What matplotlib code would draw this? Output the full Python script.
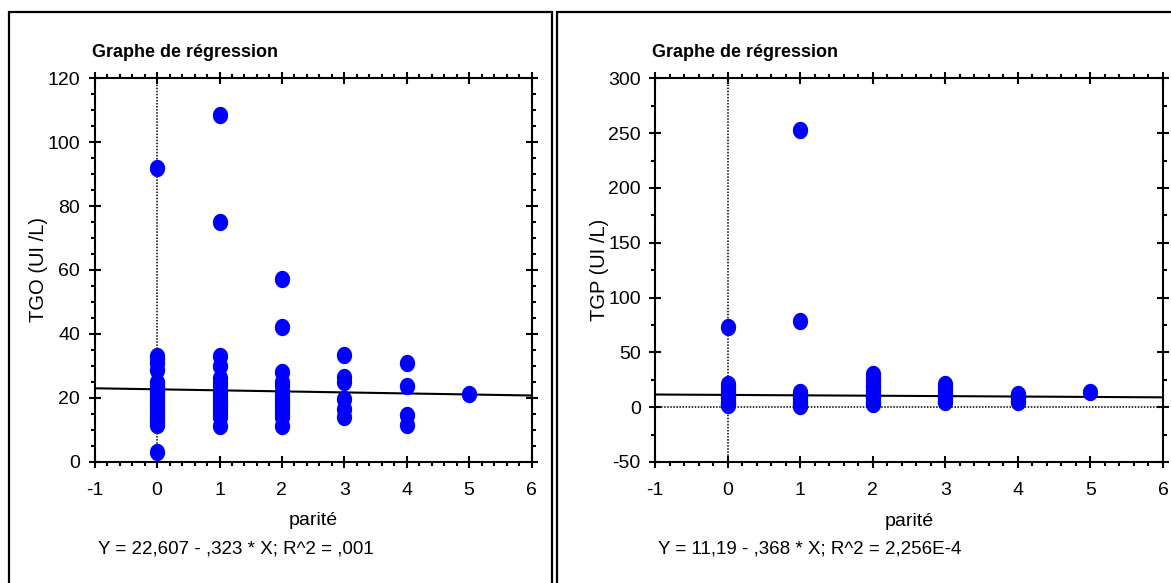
#!/usr/bin/env python3

import numpy as np
import matplotlib
matplotlib.use('Agg')
import matplotlib.pyplot as plt
from matplotlib.ticker import MultipleLocator, AutoMinorLocator
from matplotlib.patches import Rectangle
from matplotlib.path import Path

plt.rcParams['axes.unicode_minus'] = False

# parité values with TGO readings (left panel)
tgo_x = [0]*21 + [1]*17 + [2]*15 + [3]*6 + [4]*4 + [5]
tgo_y = [92, 33, 32, 31, 28.5, 25, 24, 23, 22, 21, 20, 19, 18, 17, 16, 15, 14, 13, 12, 11.5, 3,
         108.5, 75, 33, 30, 26, 25, 24, 22, 21, 20, 19, 18, 17, 16, 15, 14, 11,
         57, 42, 28, 25, 24, 22, 21, 20, 19, 18, 17, 16, 15, 14, 11,
         33.5, 26.5, 25, 19.5, 16.5, 14,
         31, 23.5, 14.5, 11.5,
         21]

# parité values with TGP readings (right panel)
tgp_x = [0]*11 + [1]*10 + [2]*12 + [3]*8 + [4]*5 + [5]
tgp_y = [73, 21, 18, 15, 12, 10, 8, 6, 4, 3, 2,
         253, 79, 14, 12, 10, 8, 6, 4, 2, 1,
         30, 27, 24, 20, 18, 15, 12, 10, 8, 6, 4, 3,
         21, 18, 15, 12, 10, 8, 6, 5,
         12, 10, 8, 6, 5,
         14]

tgo_fit = (22.607, -0.323)
tgp_fit = (11.19, -0.368)
tgo_eq = 'Y = 22,607 - ,323 * X; R^2 = ,001'
tgp_eq = 'Y = 11,19 - ,368 * X; R^2 = 2,256E-4'

FONT = ['Liberation Sans', 'DejaVu Sans']

W, H = 1171, 583
fig = plt.figure(figsize=(W/100, H/100), dpi=100)

# slightly tall ellipse marker
t = np.linspace(0, 2*np.pi, 60)
ell = Path(np.column_stack([0.44*np.cos(t), 0.5*np.sin(t)]), closed=True)


def px_axes(x0, x1, y0, y1):
    return fig.add_axes([x0/W, 1 - y1/H, (x1-x0)/W, (y1-y0)/H])


def panel(ax, xs, ys, fit, eq, ylabel, ylim, ymaj, yminor, hline):
    ax.set_xlim(-1, 6)
    ax.set_ylim(*ylim)
    ax.axvline(0, color='k', lw=1.1, ls=(0, (1, 1)), zorder=1)
    if hline:
        ax.axhline(0, color='k', lw=1.1, ls=(0, (1, 1)), zorder=1)
    xx = np.array([-1, 6])
    ax.plot(xx, fit[0] + fit[1]*xx, color='k', lw=1.5, zorder=2)
    ax.plot(xs, ys, ls='none', marker=ell, ms=12.5, color='#0000ff', mec='none', zorder=3)

    ax.xaxis.set_major_locator(MultipleLocator(1))
    ax.xaxis.set_minor_locator(AutoMinorLocator(5))
    ax.yaxis.set_major_locator(MultipleLocator(ymaj))
    ax.yaxis.set_minor_locator(AutoMinorLocator(yminor))
    ax.tick_params(which='both', top=True, right=True, width=1.5, color='k')
    ax.tick_params(which='major', direction='inout', length=9)
    ax.tick_params(which='minor', direction='out', length=3)
    ax.tick_params(axis='x', which='major', pad=10)
    ax.tick_params(axis='y', which='major', pad=6)
    for sp in ax.spines.values():
        sp.set_linewidth(1.5)
    for lab in ax.get_xticklabels() + ax.get_yticklabels():
        lab.set_family(FONT)
        lab.set_fontsize(14)

    bb = ax.get_position()
    wpx = bb.width*W
    hpx = bb.height*H
    ax.text(-3/wpx, 1 + 26/hpx, 'Graphe de régression', transform=ax.transAxes,
            ha='left', va='center', fontsize=13, fontweight='bold', family=FONT)
    ax.set_xlabel('parité', fontsize=14, family=FONT, va='center')
    ax.xaxis.set_label_coords(0.5, -59/hpx)
    ax.set_ylabel(ylabel, fontsize=14.5, family=FONT, va='center')
    ax.yaxis.set_label_coords(-56/wpx, 0.5)
    ax.text(3/wpx, -87/hpx, eq, transform=ax.transAxes, ha='left', va='center',
            fontsize=13.5, family=FONT)


ax1 = px_axes(94.7, 531.5, 78.3, 461.5)
panel(ax1, tgo_x, tgo_y, tgo_fit, tgo_eq, 'TGO (UI /L)', (0, 120), 20, 4, False)

ax2 = px_axes(655.3, 1163, 78.3, 462)
panel(ax2, tgp_x, tgp_y, tgp_fit, tgp_eq, 'TGP (UI /L)', (-50, 300), 50, 2, True)

# panel frames
fig.patches.append(Rectangle((9/W, -0.1), (552-9)/W, 1.1 - 12/H, fill=False,
                             lw=1.6, ec='k', transform=fig.transFigure, figure=fig))
fig.patches.append(Rectangle((557/W, -0.1), 1.0, 1.1 - 12/H, fill=False,
                             lw=1.6, ec='k', transform=fig.transFigure, figure=fig))

fig.savefig('out.png', dpi=100)
